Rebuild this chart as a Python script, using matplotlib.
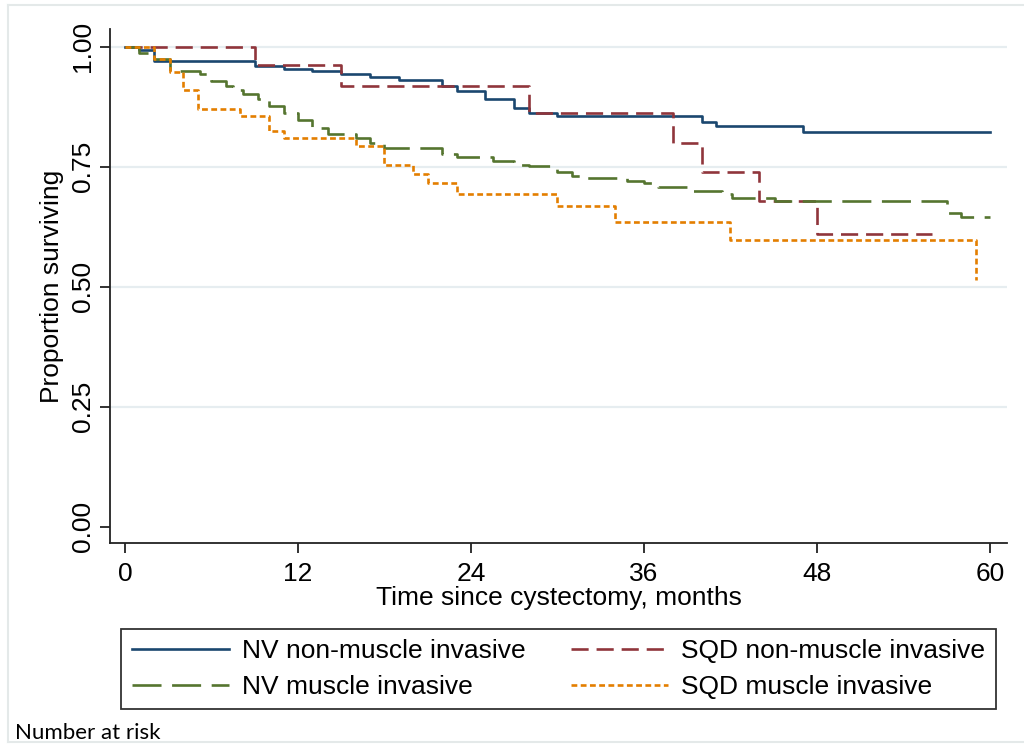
import matplotlib.pyplot as plt
from matplotlib.lines import Line2D

# Kaplan-Meier curves
t_nv_nmi = [0, 1.0, 2.0, 9.0, 11.0, 13.0, 15.0, 17.0, 19.0, 22.0, 23.0, 25.0, 27.0, 28.0, 30.0, 40.0, 41.0, 47.0, 60]
s_nv_nmi = [1.0, 0.992, 0.971, 0.960, 0.954, 0.949, 0.942, 0.936, 0.930, 0.917, 0.908, 0.890, 0.872, 0.862, 0.856, 0.844, 0.835, 0.823, 0.823]

t_sqd_nmi = [0, 9, 15, 28, 38, 40, 44, 48, 56]
s_sqd_nmi = [1.0, 0.961, 0.917, 0.862, 0.800, 0.738, 0.678, 0.610, 0.610]

t_nv_mi = [0, 1.0, 2.0, 3.1, 5.2, 6.0, 7.0, 7.5, 8.2, 9.2, 10.0, 11.0, 12.0, 13.0, 14.1, 16.0, 17.0, 18.0,
           22.0, 23.0, 25.5, 27.0, 28.0, 30.0, 31.0, 32.0, 34.8, 36.0, 37.0, 39.0, 41.4, 42.1, 45.1, 57.0, 58.0, 60]
s_nv_mi = [1.0, 0.987, 0.974, 0.949, 0.942, 0.928, 0.917, 0.910, 0.902, 0.890, 0.877, 0.862, 0.848, 0.831, 0.818, 0.810, 0.799, 0.788,
           0.777, 0.770, 0.761, 0.754, 0.751, 0.738, 0.731, 0.726, 0.721, 0.715, 0.707, 0.699, 0.692, 0.685, 0.678, 0.654, 0.645, 0.645]

t_sqd_mi = [0, 2.0, 3.1, 4.0, 5.1, 8.0, 10.0, 11.0, 16.0, 18.0, 20.0, 21.0, 23.0, 30.0, 34.0, 42.0, 59.0]
s_sqd_mi = [1.0, 0.974, 0.947, 0.910, 0.871, 0.856, 0.825, 0.810, 0.792, 0.754, 0.735, 0.715, 0.694, 0.667, 0.635, 0.597, 0.513]

labels = ["NV non-muscle invasive", "SQD non-muscle invasive", "NV muscle invasive", "SQD muscle invasive"]
x_ticks = [0, 12, 24, 36, 48, 60]
y_ticks = [0.00, 0.25, 0.50, 0.75, 1.00]

plt.rcParams['font.family'] = ['Liberation Sans', 'DejaVu Sans']

fig = plt.figure(figsize=(10.24, 7.44), dpi=100)
ax = fig.add_axes([0.1074, 0.2702, 0.876, 0.691])

navy = '#1a476f'
maroon = '#90353b'
green = '#55752f'
orange = '#e37e00'
lw = 1.9
fs = 19

ax.plot(t_nv_nmi, s_nv_nmi, drawstyle='steps-post', color=navy, lw=lw, label=labels[0])
ax.plot(t_sqd_nmi, s_sqd_nmi, drawstyle='steps-post', color=maroon, lw=lw, dashes=(6.5, 3), label=labels[1])
ax.plot(t_nv_mi, s_nv_mi, drawstyle='steps-post', color=green, lw=lw, dashes=(11, 4), label=labels[2])
ax.plot(t_sqd_mi, s_sqd_mi, drawstyle='steps-post', color=orange, lw=lw, dashes=(2.2, 1.3), label=labels[3])

ax.set_xlim(-1.04, 61.18)
ax.set_ylim(-0.034, 1.037)

# grid lines as in Stata (no line at 0)
for yv in y_ticks[1:]:
    ax.axhline(yv, color='#e6edf0', lw=1.6, zorder=0)

ax.set_xticks(x_ticks)
ax.set_yticks(y_ticks)
ax.set_yticklabels([f"{v:.2f}" for v in y_ticks], rotation=90, va='center')
ax.tick_params(axis='both', labelsize=fs, length=7, width=1.3, color='#222222')
ax.tick_params(axis='y', pad=4)
ax.tick_params(axis='x', pad=7)

ax.spines['top'].set_visible(False)
ax.spines['right'].set_visible(False)
for side in ['left', 'bottom']:
    ax.spines[side].set_linewidth(1.3)
    ax.spines[side].set_color('#222222')

ax.set_xlabel("Time since cystectomy, months", fontsize=fs, labelpad=0)
ax.set_ylabel("Proportion surviving", fontsize=fs, labelpad=5)

# legend (order: row by row)
handles, lbls = ax.get_legend_handles_labels()
order = [0, 2, 1, 3]
leg = fig.legend([handles[i] for i in order], [lbls[i] for i in order], ncol=2,
                 loc='center', bbox_to_anchor=(121/1024, 1-711/744, 875/1024, 84/744),
                 mode='expand', fontsize=fs, frameon=True, fancybox=False, borderaxespad=0,
                 handlelength=3.7, handletextpad=0.5, labelspacing=0.45, borderpad=0.4,
                 columnspacing=1.0)
leg.get_frame().set_edgecolor('black')
leg.get_frame().set_linewidth(1.3)

fig.text(15/1024, 1-733/744, "Number at risk", fontsize=16, family=['Lato', 'DejaVu Sans'],
         va='center', ha='left')

# faint outer frame
fig.add_artist(Line2D([8/1024, 8/1024], [0.003, 0.993], transform=fig.transFigure, color='#e4e9e9', lw=1.5))
fig.add_artist(Line2D([8/1024, 1.0], [0.993, 0.993], transform=fig.transFigure, color='#e4e9e9', lw=1.5))
fig.add_artist(Line2D([8/1024, 1.0], [0.003, 0.003], transform=fig.transFigure, color='#e4e9e9', lw=1.5))

fig.savefig("out.png", dpi=100)
